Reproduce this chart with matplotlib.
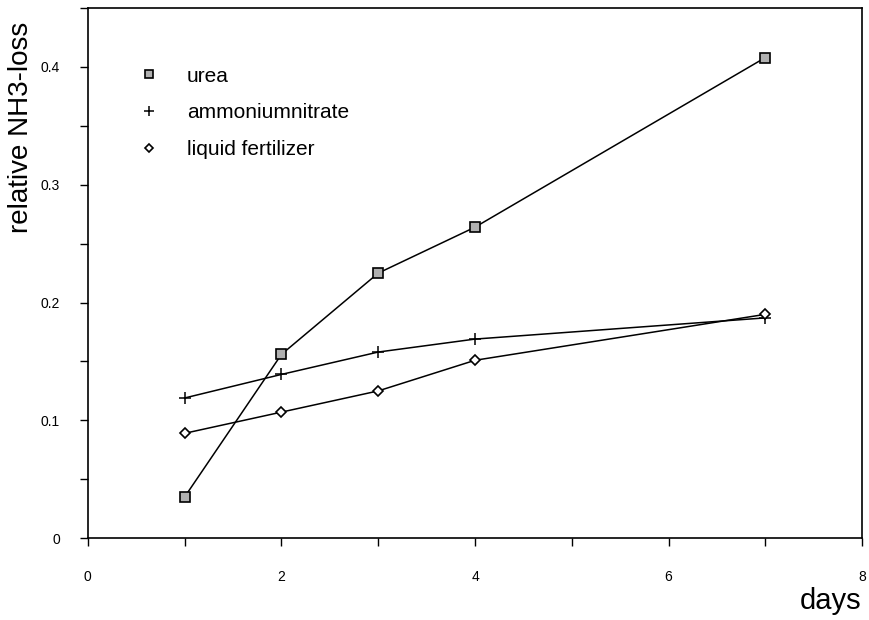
import matplotlib
matplotlib.use("Agg")
import matplotlib.pyplot as plt
from matplotlib.ticker import MultipleLocator

plt.rcParams['font.family'] = ['Liberation Sans', 'DejaVu Sans']

days = [1, 2, 3, 4, 7]
urea = [0.035, 0.156, 0.225, 0.264, 0.408]
ammonium = [0.119, 0.139, 0.158, 0.169, 0.187]
liquid = [0.089, 0.107, 0.125, 0.151, 0.190]
labels = ['urea', 'ammoniumnitrate', 'liquid fertilizer']

fig = plt.figure(figsize=(8.7, 6.2), dpi=100)
ax = fig.add_axes([0.101, 0.132, 0.890, 0.855])

ax.plot(days, urea, color='black', lw=1.1, marker='s', ms=7,
        mfc='#b0b0b0', mec='black', mew=1.2, label=labels[0])
ax.plot(days, ammonium, color='black', lw=1.1, marker='+', ms=9,
        mew=1.1, label=labels[1])
ax.plot(days, liquid, color='black', lw=1.1, marker='D', ms=5,
        mfc='white', mec='black', mew=1.2, label=labels[2])

ax.set_xlim(0, 8)
ax.set_ylim(0, 0.45)
ax.xaxis.set_major_locator(MultipleLocator(2))
ax.xaxis.set_minor_locator(MultipleLocator(1))
ax.yaxis.set_minor_locator(MultipleLocator(0.05))
ax.set_yticks([0, 0.1, 0.2, 0.3, 0.4])
ax.set_yticklabels(['0', '0.1', '0.2', '0.3', '0.4'])
ax.tick_params(which='both', direction='out', width=1, labelsize=10)
ax.tick_params(which='both', length=6)
ax.tick_params(axis='x', pad=17)
ax.tick_params(axis='y', pad=14)

for s in ax.spines.values():
    s.set_linewidth(1.2)

ax.set_ylabel('relative NH3-loss', fontsize=20)
ax.yaxis.set_label_coords(-0.07, 0.775)
fig.text(0.955, 0.018, 'days', fontsize=21, ha='center', va='baseline')

ax.legend(loc='upper left', bbox_to_anchor=(0.055, 0.925), frameon=False,
          handlelength=0, handletextpad=1.8, labelspacing=0.85, fontsize=15,
          markerscale=0.8)

fig.savefig('out.png', dpi=100, facecolor='white')
